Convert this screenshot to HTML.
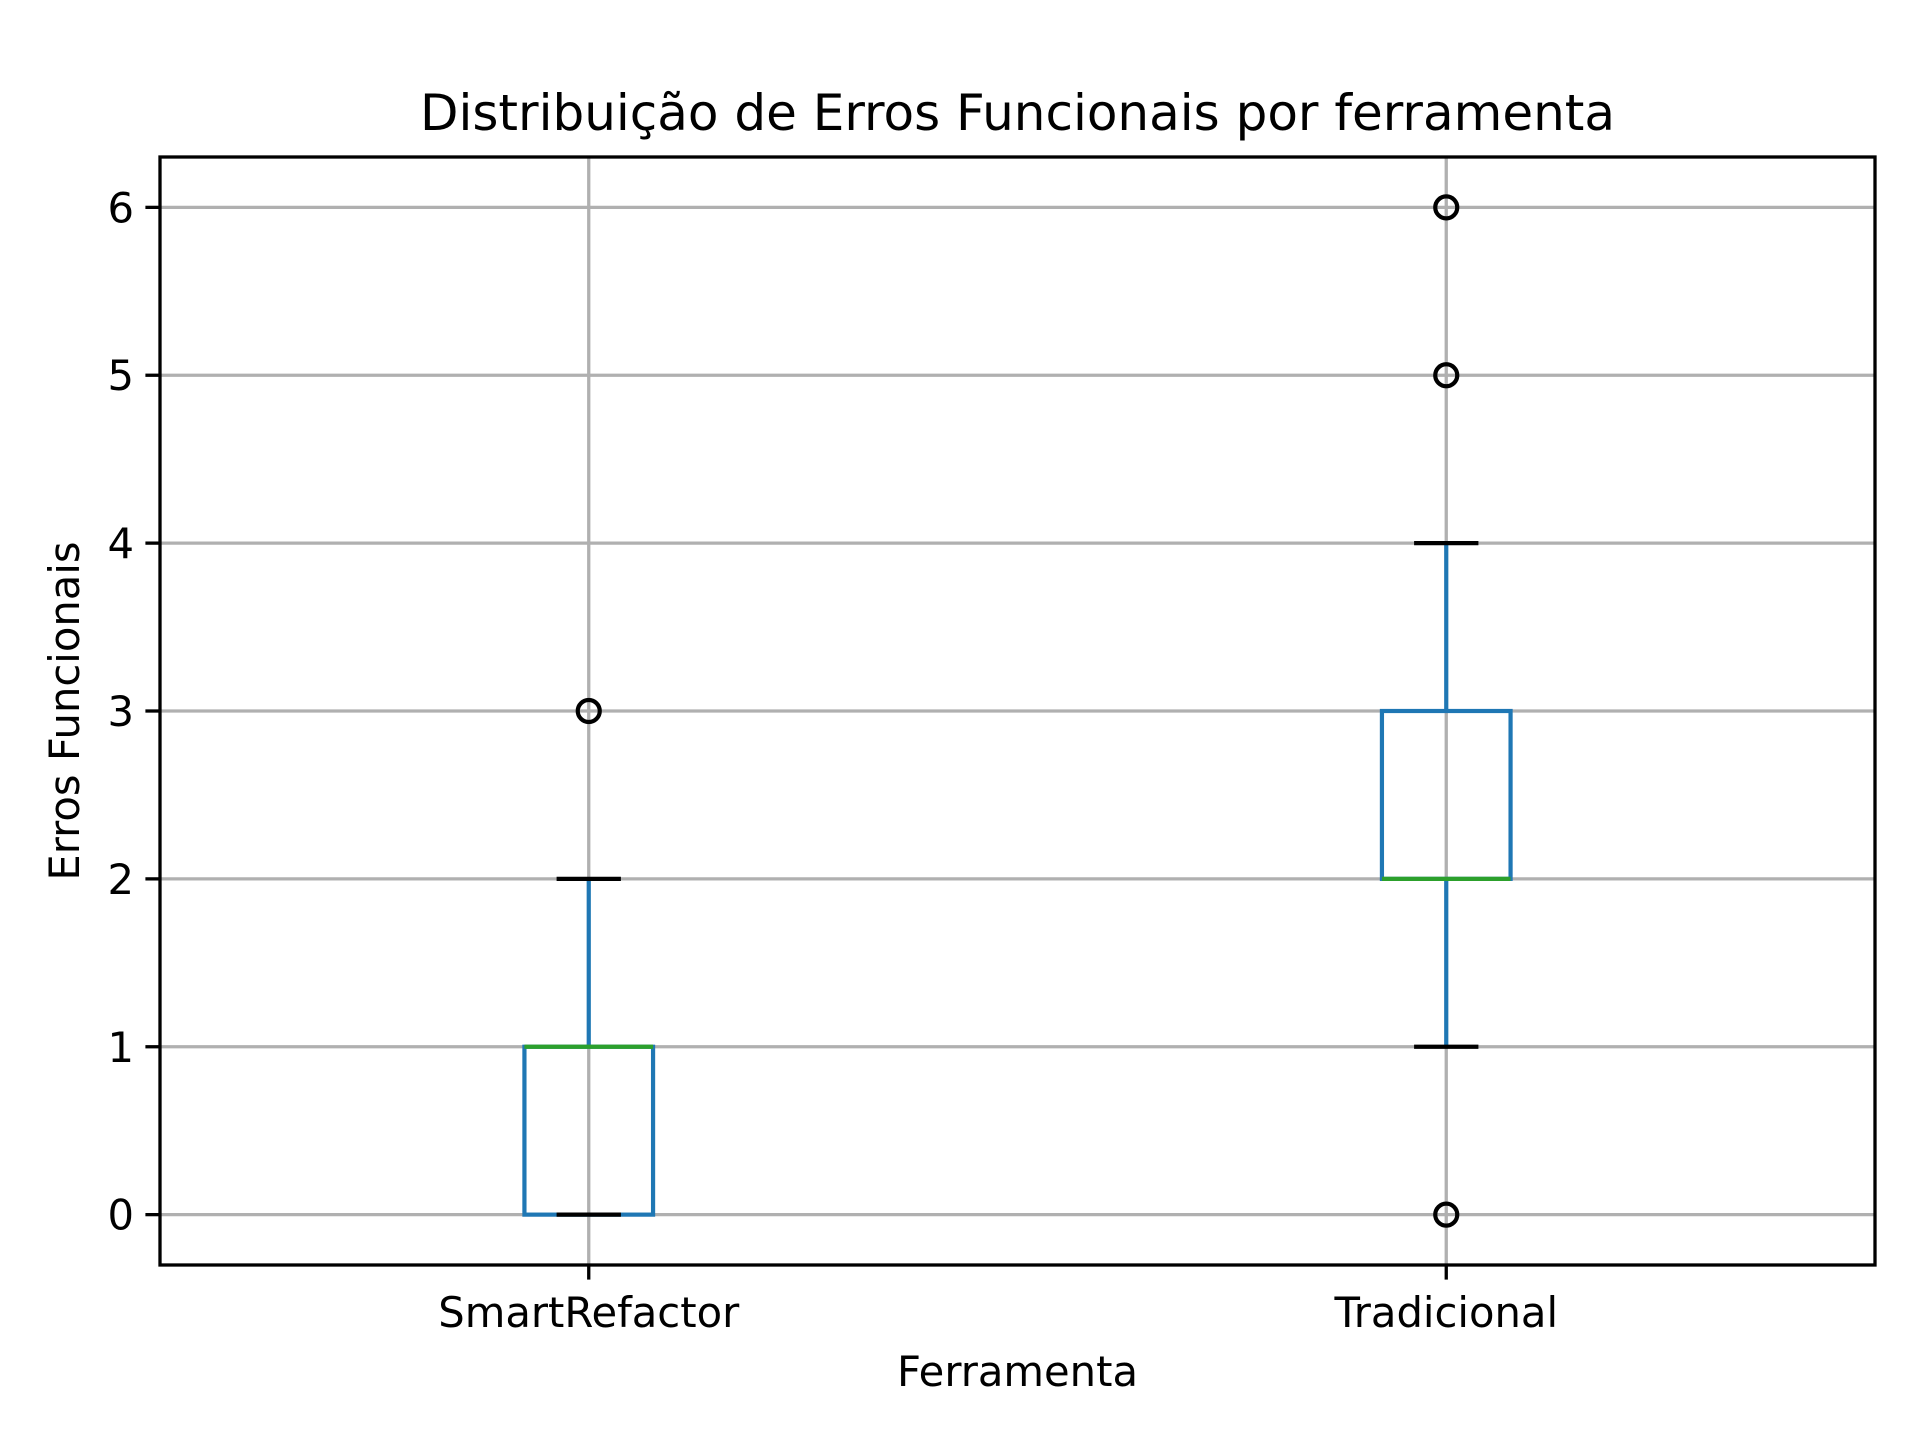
<!DOCTYPE html>
<html><head><meta charset="utf-8"><style>body{margin:0;background:#fff}svg{display:block}text{font-family:"DejaVu Sans","Liberation Sans",sans-serif;fill:#000}</style></head>
<body>
<svg id="c" width="1920" height="1440" viewBox="0 0 1920 1440"></svg>
<script>
const categories=["SmartRefactor","Tradicional"];
const q1=[0,2];
const median=[1,2];
const q3=[1,3];
const whiskerLow=[0,1];
const whiskerHigh=[2,4];
const outliers=[[3],[0,5,6]];
const yTicks=[0,1,2,3,4,5,6];

const L=160,R=1875,T=157,B=1265;
const y=v=>B-(v+0.3)/6.6*(B-T);
const x=p=>L+(p-0.5)/2*(R-L);
const s=document.getElementById('c');
const NS='http://www.w3.org/2000/svg';
function mk(t,a,p){const e=document.createElementNS(NS,t);for(const k in a)e.setAttribute(k,a[k]);(p||s).appendChild(e);return e;}
function ln(x1,y1,x2,y2,c,w){return mk('line',{x1,y1,x2,y2,stroke:c,'stroke-width':w});}
function tx(str,a){const e=mk('text',a);e.textContent=str;return e;}

yTicks.forEach(v=>{const g=ln(L,y(v),R,y(v),'#b0b0b0',3.3);

});
categories.forEach((c,i)=>{const g=ln(x(i+1),T,x(i+1),B,'#b0b0b0',3.3);

});

categories.forEach((c,i)=>{
const g=mk('g',{});


const cx=x(i+1);
const boxW=0.15*(R-L)/2, capW=0.075*(R-L)/2;
[[whiskerLow[i],q1[i]],[q3[i],whiskerHigh[i]]].forEach(([a,b])=>{if(a!==b){const l=mk('line',{x1:cx,y1:y(a),x2:cx,y2:y(b),stroke:'#1f77b4','stroke-width':4.2},g);

}});
const r=mk('rect',{x:cx-boxW/2,y:y(q3[i]),width:boxW,height:Math.max(0,y(q1[i])-y(q3[i])),fill:'none',stroke:'#1f77b4','stroke-width':4.2},g);


[whiskerLow[i],whiskerHigh[i]].forEach(v=>{const l=mk('line',{x1:cx-capW/2,y1:y(v),x2:cx+capW/2,y2:y(v),stroke:'#000','stroke-width':4.2},g);

});
const m=mk('line',{x1:cx-boxW/2,y1:y(median[i]),x2:cx+boxW/2,y2:y(median[i]),stroke:'#2ca02c','stroke-width':4.2},g);


outliers[i].forEach(v=>{const o=mk('circle',{cx,cy:y(v),r:11,fill:'none',stroke:'#000','stroke-width':4.2},g);

});
});

const f=mk('rect',{x:L,y:T,width:R-L,height:B-T,fill:'none',stroke:'#000','stroke-width':3.3});


yTicks.forEach(v=>{ln(L-14.6,y(v),L,y(v),'#000',3.3);
const t=tx(String(v),{x:L-26,y:y(v)+15,'font-size':41.7,'text-anchor':'end'});

});
categories.forEach((c,i)=>{ln(x(i+1),B,x(i+1),B+14.6,'#000',3.3);
const t=tx(c,{x:x(i+1),y:B+62,'font-size':41.7,'text-anchor':'middle'});

});
const ti=tx('Distribuição de Erros Funcionais por ferramenta',{x:(L+R)/2,y:130,'font-size':50,'text-anchor':'middle'});


const xl=tx('Ferramenta',{x:(L+R)/2,y:1386,'font-size':41.7,'text-anchor':'middle'});


const yl=tx('Erros Funcionais',{x:0,y:0,'font-size':41.7,'text-anchor':'middle',transform:`translate(79,${(T+B)/2}) rotate(-90)`});


</script>
</body></html>
